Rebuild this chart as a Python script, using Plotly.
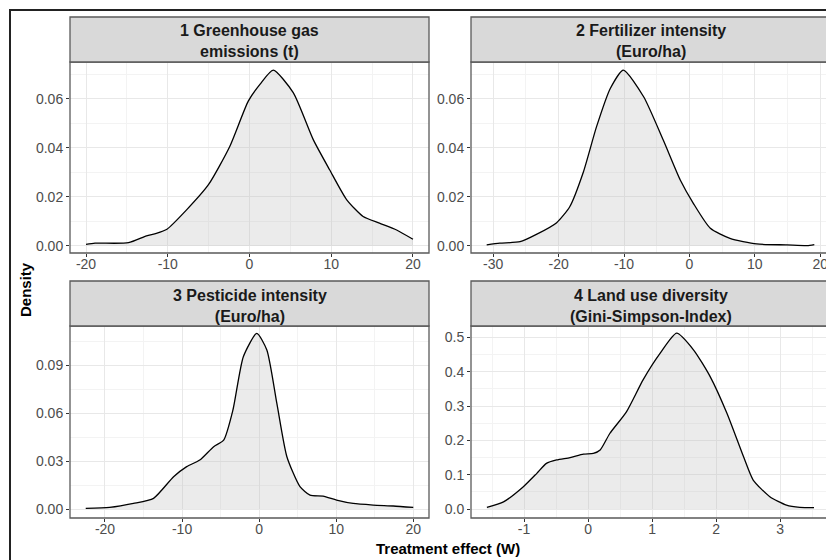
import plotly.graph_objects as go

W, H = 834, 560   # canvas slightly wider than the 826px window: right edge is cropped as in the reference

# ---------------- data ----------------
titles = ["1 Greenhouse gas<br>emissions (t)",
          "2 Fertilizer intensity<br>(Euro/ha)",
          "3 Pesticide intensity<br>(Euro/ha)",
          "4 Land use diversity<br>(Gini-Simpson-Index)"]

ghg_x = [-20.0, -18.9, -14.8, -12.6, -11.4, -10.1, -7.7, -5.0, -2.4, -0.15, 1.3, 2.9,
         5.35, 7.8, 9.8, 11.9, 13.9, 15.9, 18.0, 20.0]
ghg_y = [0.0005, 0.001, 0.0012, 0.004, 0.005, 0.0067, 0.0146, 0.025, 0.0406, 0.059, 0.066,
         0.0717, 0.0625, 0.0433, 0.031, 0.0187, 0.0119, 0.0092, 0.0064, 0.0026]

fert_x = [-31.0, -29.0, -25.9, -23.4, -20.3, -18.3, -16.2, -14.2, -12.1, -10.1, -7.0, -4.0,
          -1.4, 0.6, 3.2, 6.2, 10.3, 14.9, 18.0, 19.1]
fert_y = [0.0003, 0.001, 0.0016, 0.0046, 0.0094, 0.0159, 0.0302, 0.0486, 0.0642, 0.0717,
          0.0608, 0.0431, 0.0268, 0.0173, 0.0071, 0.003, 0.0007, 0.0003, 0.0, 0.0004]

pest_x = [-22.5, -19.4, -16.3, -13.7, -11.1, -9.4, -7.7, -5.9, -4.6, -3.4, -2.05, -0.3,
          1.0, 2.3, 3.6, 5.3, 6.6, 8.3, 10.05, 12.2, 14.8, 17.4, 20.0]
pest_y = [0.0004, 0.001, 0.0035, 0.0067, 0.0202, 0.0265, 0.0306, 0.039, 0.0431, 0.0619,
          0.0952, 0.1098, 0.0994, 0.066, 0.0327, 0.014, 0.0087, 0.0081, 0.0056, 0.0035,
          0.0025, 0.0019, 0.001]

land_x = [-1.58, -1.32, -1.01, -0.80, -0.65, -0.49, -0.28, -0.07, 0.083, 0.19, 0.34, 0.60,
          0.86, 1.125, 1.385, 1.65, 1.91, 2.17, 2.43, 2.58, 2.84, 3.10, 3.31, 3.53]
land_y = [0.005, 0.021, 0.065, 0.104, 0.133, 0.143, 0.15, 0.16, 0.162, 0.172, 0.22, 0.283,
          0.376, 0.453, 0.512, 0.463, 0.385, 0.279, 0.152, 0.0845, 0.036, 0.0117, 0.005, 0.004]

x_ticks = [[-20, -10, 0, 10, 20], [-30, -20, -10, 0, 10, 20], [-20, -10, 0, 10, 20], [-1, 0, 1, 2, 3]]
x_minor = [[-15, -5, 5, 15], [-25, -15, -5, 5, 15], [-15, -5, 5, 15], [-1.5, -0.5, 0.5, 1.5, 2.5, 3.5]]
y_ticks = [[0, 0.02, 0.04, 0.06], [0, 0.02, 0.04, 0.06], [0, 0.03, 0.06, 0.09], [0, 0.1, 0.2, 0.3, 0.4, 0.5]]
y_labels = [["0.00", "0.02", "0.04", "0.06"], ["0.00", "0.02", "0.04", "0.06"],
            ["0.00", "0.03", "0.06", "0.09"], ["0.0", "0.1", "0.2", "0.3", "0.4", "0.5"]]
y_minor = [[0.01, 0.03, 0.05, 0.07], [0.01, 0.03, 0.05, 0.07],
           [0.015, 0.045, 0.075, 0.105], [0.05, 0.15, 0.25, 0.35, 0.45]]

xs = [ghg_x, fert_x, pest_x, land_x]
ys = [ghg_y, fert_y, pest_y, land_y]

# ---------------- layout geometry (pixels) ----------------
panels = [  # x0, x1, y_top(plot), y_bottom(plot), strip_top
    (70, 429, 62, 253, 17),
    (471, 830, 62, 253, 17),
    (70, 429, 326, 518, 281),
    (471, 830, 326, 518, 281),
]
x_ranges = [[-21.96, 21.96], [-33.4, 21.5], [-24.54, 22.04], [-1.828, 3.78]]
y_ranges = [[-0.003, 0.075], [-0.003, 0.075], [-0.0056, 0.1144], [-0.026, 0.533]]


def px(x):
    return x / W


def py(y):
    return 1 - y / H


fig = go.Figure()
font_family = "Liberation Sans, Arial, sans-serif"
layout = dict(width=W, height=H, margin=dict(l=0, r=0, t=0, b=0),
              paper_bgcolor="white", plot_bgcolor="white", showlegend=False,
              font=dict(family=font_family))
shapes = []
annotations = []

for i in range(4):
    x0, x1, yt, yb, st = panels[i]
    n = "" if i == 0 else str(i + 1)
    xd = [px(x0), px(x1)]
    yd = [py(yb), py(yt)]
    fig.add_trace(go.Scatter(x=xs[i], y=ys[i], mode="lines",
                             line=dict(color="black", width=1.3, shape="spline", smoothing=0.6),
                             fill="tozeroy", fillcolor="rgba(190,190,190,0.3)",
                             xaxis="x" + n, yaxis="y" + n, hoverinfo="skip"))
    layout["xaxis" + n] = dict(domain=xd, range=x_ranges[i], anchor="y" + n,
                               tickvals=x_ticks[i], ticktext=[str(v) for v in x_ticks[i]],
                               ticks="outside", ticklen=3, tickcolor="#333333", tickwidth=1,
                               tickfont=dict(size=14, color="#4d4d4d"),
                               ticklabelstandoff=-5, ticklabeloverflow="allow",
                               showgrid=True, gridcolor="#e8e8e8", gridwidth=1.1,
                               minor=dict(tickvals=x_minor[i], showgrid=True, gridcolor="#f3f3f3",
                                          gridwidth=0.8, ticks=""),
                               zeroline=False, showline=False, fixedrange=True)
    layout["yaxis" + n] = dict(domain=yd, range=y_ranges[i], anchor="x" + n,
                               tickvals=y_ticks[i], ticktext=y_labels[i],
                               ticks="outside", ticklen=3, tickcolor="#333333", tickwidth=1,
                               tickfont=dict(size=14, color="#4d4d4d"),
                               showgrid=True, gridcolor="#e8e8e8", gridwidth=1.1,
                               minor=dict(tickvals=y_minor[i], showgrid=True, gridcolor="#f3f3f3",
                                          gridwidth=0.8, ticks=""),
                               zeroline=False, showline=False, fixedrange=True)
    # panel border
    shapes.append(dict(type="rect", xref="paper", yref="paper", x0=px(x0), x1=px(x1), y0=py(yb), y1=py(yt),
                       line=dict(color="#5a5a5a", width=1.3), fillcolor="rgba(0,0,0,0)", layer="above"))
    # strip
    shapes.append(dict(type="rect", xref="paper", yref="paper", x0=px(x0), x1=px(x1), y0=py(yt), y1=py(st),
                       line=dict(color="#5a5a5a", width=1.3), fillcolor="#d9d9d9", layer="above"))
    annotations.append(dict(text="<b>" + titles[i] + "</b>", xref="paper", yref="paper",
                            x=px((x0 + x1) / 2), y=py((st + yt) / 2 + 2), showarrow=False,
                            xanchor="center", yanchor="middle",
                            font=dict(size=16, color="#1a1a1a", family=font_family)))

# outer frame (top and left edges)
shapes.append(dict(type="line", xref="paper", yref="paper", x0=px(9), x1=1.0, y0=py(10), y1=py(10),
                   line=dict(color="#222222", width=2)))
shapes.append(dict(type="line", xref="paper", yref="paper", x0=px(10), x1=px(10), y0=py(9), y1=0.0,
                   line=dict(color="#222222", width=2)))

annotations.append(dict(text="<b>Treatment effect (W)</b>", xref="paper", yref="paper",
                        x=px(448), y=py(548), showarrow=False, xanchor="center", yanchor="middle",
                        font=dict(size=15, color="black")))
annotations.append(dict(text="<b>Density</b>", xref="paper", yref="paper", textangle=-90,
                        x=px(25), y=py(290), showarrow=False, xanchor="center", yanchor="middle",
                        font=dict(size=15, color="black")))

layout["shapes"] = shapes
layout["annotations"] = annotations
fig.update_layout(**layout)
fig.write_html("out.html", config={"displayModeBar": False},
               post_script="document.body.style.margin='0px';document.body.style.overflow='hidden';"
                           "document.documentElement.style.overflow='hidden';")
